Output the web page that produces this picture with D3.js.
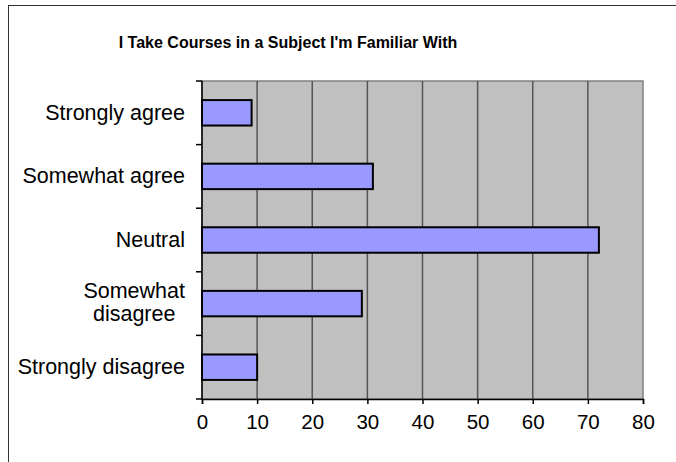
<!DOCTYPE html>
<html>
<head>
<meta charset="utf-8">
<script src="https://cdn.jsdelivr.net/npm/d3@7"></script>
<style>
  body { margin: 0; background: #fff; }
  text { font-family: "Liberation Sans", Arial, sans-serif; fill: #000; }
</style>
</head>
<body>
<svg id="chart" width="676" height="462"></svg>
<script>
// chart data
var title = "I Take Courses in a Subject I'm Familiar With";
var categories = ["Strongly agree", "Somewhat agree", "Neutral", "Somewhat disagree", "Strongly disagree"];
var counts = [9, 31, 72, 29, 10];
var xTicks = [0, 10, 20, 30, 40, 50, 60, 70, 80];

var svg = d3.select('#chart');

// outer chart border (right/bottom fall outside the picture)
svg.append('rect')
    .attr('x', 8.5).attr('y', 5.5)
    .attr('width', 700).attr('height', 500)
    .attr('fill', '#fff')
    .attr('stroke', '#333');

var plot = {left: 202, top: 81, right: 643, bottom: 399};

var x = d3.scaleLinear()
    .domain([0, 80])
    .range([plot.left, plot.right]);

var y = d3.scaleBand()
    .domain(categories)
    .range([plot.top, plot.bottom])
    .padding(0);

// gray plot area
svg.append('rect')
    .attr('x', plot.left).attr('y', plot.top)
    .attr('width', plot.right - plot.left)
    .attr('height', plot.bottom - plot.top)
    .attr('fill', '#c0c0c0')
    .attr('stroke', '#808080')
    .attr('stroke-width', 1.5);

// vertical gridlines
svg.append('g').selectAll('line')
    .data(xTicks.slice(1, -1))
    .enter().append('line')
        .attr('x1', function(d){ return x(d); })
        .attr('x2', function(d){ return x(d); })
        .attr('y1', plot.top)
        .attr('y2', plot.bottom)
        .attr('stroke', '#555')
        .attr('stroke-width', 1.5);

// bars
var barH = y.bandwidth() * 0.4;
svg.append('g').selectAll('rect')
    .data(categories)
    .enter().append('rect')
        .attr('x', x(0))
        .attr('y', function(d){ return y(d) + (y.bandwidth() - barH) / 2; })
        .attr('width', function(d, i){ return x(counts[i]) - x(0); })
        .attr('height', barH)
        .attr('fill', '#9999ff')
        .attr('stroke', '#000')
        .attr('stroke-width', 2);

// x axis
var xAxis = d3.axisBottom(x)
    .tickValues(xTicks)
    .tickSize(5)
    .tickPadding(10);
var gx = svg.append('g')
    .attr('transform', 'translate(0,' + plot.bottom + ')')
    .call(xAxis);
gx.select('.domain').attr('stroke', '#000').attr('stroke-width', 1.5);
gx.selectAll('.tick line').attr('stroke', '#000').attr('stroke-width', 1.5);
gx.selectAll('.tick text')
    .style('font-family', '"Liberation Sans", Arial, sans-serif')
    .style('font-size', '20.5px')
    .attr('fill', '#000');

// y axis line and boundary ticks
svg.append('line')
    .attr('x1', plot.left).attr('x2', plot.left)
    .attr('y1', plot.top).attr('y2', plot.bottom)
    .attr('stroke', '#000').attr('stroke-width', 1.5);
var bounds = categories.map(function(d){ return y(d); }).concat([plot.bottom]);
svg.append('g').selectAll('line')
    .data(bounds)
    .enter().append('line')
        .attr('x1', plot.left - 6).attr('x2', plot.left)
        .attr('y1', function(d){ return d; })
        .attr('y2', function(d){ return d; })
        .attr('stroke', '#000')
        .attr('stroke-width', 1.5);

// category labels, wrapped like Excel when too long
var labelSize = '21.5px';
var labelRight = 185;
var maxLabelW = 175;
categories.forEach(function(c){
    var cy = y(c) + y.bandwidth() / 2;
    var t = svg.append('text')
        .style('font-size', labelSize)
        .attr('text-anchor', 'end')
        .attr('x', labelRight)
        .attr('y', cy + 7)
        .text(c);
    if (t.node().getComputedTextLength() > maxLabelW) {
        var words = c.split(' ');
        t.text(null).attr('text-anchor', 'middle');
        var widths = words.map(function(w){
            var tmp = svg.append('text').style('font-size', labelSize).text(w);
            var wd = tmp.node().getComputedTextLength();
            tmp.remove();
            return wd;
        });
        var cx = labelRight - d3.max(widths) / 2;
        var lh = 23;
        words.forEach(function(w, i){
            t.append('tspan')
                .attr('x', cx)
                .attr('y', cy + 6 + (i - (words.length - 1) / 2) * lh)
                .text(w);
        });
    }
});

// title
svg.append('text')
    .attr('x', 288)
    .attr('y', 48)
    .attr('text-anchor', 'middle')
    .style('font-size', '16px')
    .style('font-weight', 'bold')
    .text(title);
</script>
</body>
</html>
